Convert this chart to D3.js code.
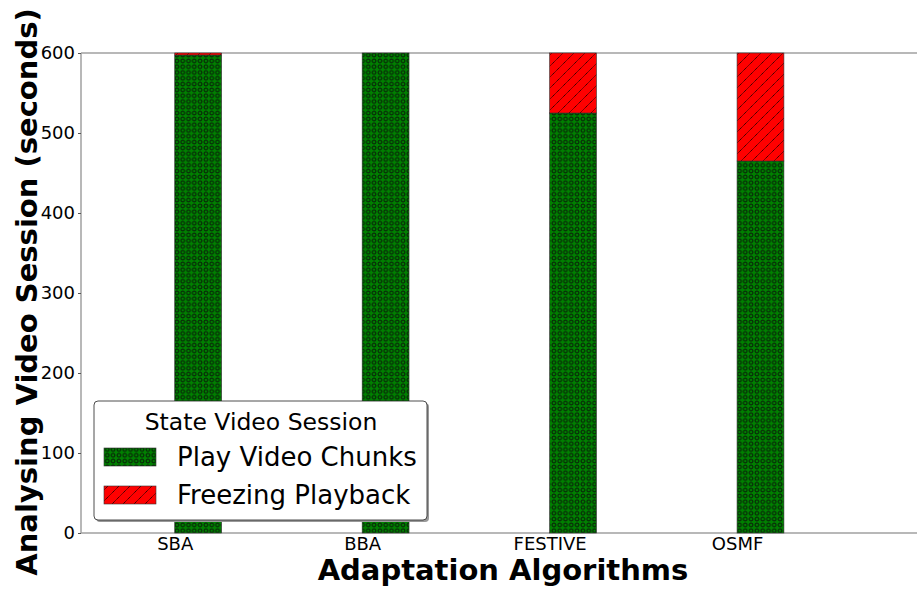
<!DOCTYPE html>
<html><head><meta charset="utf-8">
<script src="https://cdn.jsdelivr.net/npm/d3@7"></script>
<style>body{margin:0;background:#fff;}svg{display:block;}text{font-family:"DejaVu Sans",sans-serif;}</style>
</head><body>
<svg id="c" width="917" height="589"></svg>
<script>
const categories = ["SBA","BBA","FESTIVE","OSMF"];
const playVideo = [597.5, 600, 525, 465];
const freezing = [2.5, 0, 75, 135];
const yTicks = [0,100,200,300,400,500,600];
const seriesNames = ["Play Video Chunks","Freezing Playback"];
const legendTitle = "State Video Session";

(function(){
const svg = d3.select("#c");
const mL = 81, mR = 917, mT = 53, mB = 533;

// bars drawn with align "edge": tick at the left edge of each bar
const x = d3.scaleLinear().domain([-0.5, 3.96]).range([mL, mR]);
const y = d3.scaleLinear().domain([0, 600]).range([mB, mT]);
const bw = 0.25;

const defs = svg.append("defs");
const pg = defs.append("pattern").attr("id","pGreen").attr("patternUnits","userSpaceOnUse")
  .attr("width",5.8).attr("height",5.8);
pg.append("rect").attr("width",5.8).attr("height",5.8).attr("fill","#008000");
pg.append("circle").attr("cx",2.9).attr("cy",2.9).attr("r",1.9).attr("fill","none").attr("stroke","#0a0a0a").attr("stroke-width",0.9);
const pr = defs.append("pattern").attr("id","pRed").attr("patternUnits","userSpaceOnUse")
  .attr("width",11).attr("height",11);
pr.append("rect").attr("width",11).attr("height",11).attr("fill","#ff0000");
pr.append("path").attr("d","M-2,13 L13,-2 M-2,2 L2,-2 M9,13 L13,9").attr("stroke","#000").attr("stroke-width",0.9).attr("stroke-dasharray","1.2,0.6");

const axisColor = "#a0a0a0";
svg.append("line").attr("x1",mL).attr("x2",mR).attr("y1",mT).attr("y2",mT).attr("stroke",axisColor).attr("stroke-width",1.5);
svg.append("line").attr("x1",mL).attr("x2",mR).attr("y1",mB).attr("y2",mB).attr("stroke",axisColor).attr("stroke-width",1.5);

const data = categories.map((c,i)=>({c,i,p:playVideo[i],f:freezing[i]}));
svg.selectAll("rect.play").data(data).enter().append("rect").attr("class","play")
  .attr("x",d=>x(d.i)).attr("width",d=>x(bw)-x(0))
  .attr("y",d=>y(d.p)).attr("height",d=>y(0)-y(d.p))
  .attr("fill","url(#pGreen)").attr("stroke","#333").attr("stroke-width",0.6);
svg.selectAll("rect.freeze").data(data.filter(d=>d.f>0)).enter().append("rect").attr("class","freeze")
  .attr("x",d=>x(d.i)).attr("width",d=>x(bw)-x(0))
  .attr("y",d=>y(d.p+d.f)).attr("height",d=>y(d.p)-y(d.p+d.f))
  .attr("fill","url(#pRed)").attr("stroke","#333").attr("stroke-width",0.6);

const yAxis = d3.axisLeft(y).tickValues(yTicks).tickSize(3).tickPadding(3);
const gy = svg.append("g").attr("transform",`translate(${mL},0)`).call(yAxis);
gy.select(".domain").attr("stroke",axisColor).attr("stroke-width",1.5).attr("d",`M0,${mT}V${mB}`);
gy.selectAll(".tick line").attr("stroke","#555");
gy.selectAll("text").attr("font-size",18).attr("fill","#000").attr("font-family","DejaVu Sans");

const gx = svg.append("g").attr("transform",`translate(0,${mB})`)
  .call(d3.axisBottom(x).tickValues([0,1,2,3]).tickFormat(i=>categories[i]).tickSize(0).tickPadding(4));
gx.select(".domain").remove();
gx.selectAll("text").attr("font-size",18).attr("fill","#000").attr("font-family","DejaVu Sans");

svg.append("text").attr("x",503).attr("y",580)
  .attr("text-anchor","middle").attr("font-size",29).attr("font-weight","bold").text("Adaptation Algorithms");
svg.append("text").attr("transform","translate(37,292) rotate(-90)")
  .attr("text-anchor","middle").attr("font-size",29).attr("font-weight","bold").text("Analysing Video Session (seconds)");

const lg = svg.append("g");
lg.append("rect").attr("x",96).attr("y",403).attr("width",333).attr("height",119).attr("rx",4).attr("fill","#999");
lg.append("rect").attr("x",94).attr("y",401).attr("width",333).attr("height",119).attr("rx",4)
  .attr("fill","#fff").attr("stroke","#222").attr("stroke-width",0.8);
lg.append("text").attr("x",261).attr("y",430).attr("text-anchor","middle").attr("font-size",23.5).text(legendTitle);
const fills = ["url(#pGreen)","url(#pRed)"];
seriesNames.forEach((s,k)=>{
  const yy = 448 + k*38;
  lg.append("rect").attr("x",104).attr("y",yy).attr("width",52).attr("height",18).attr("fill",fills[k]).attr("stroke","#333").attr("stroke-width",0.6);
  lg.append("text").attr("x",177).attr("y",yy+18).attr("font-size",26).text(s);
});
})();
</script>
</body></html>
